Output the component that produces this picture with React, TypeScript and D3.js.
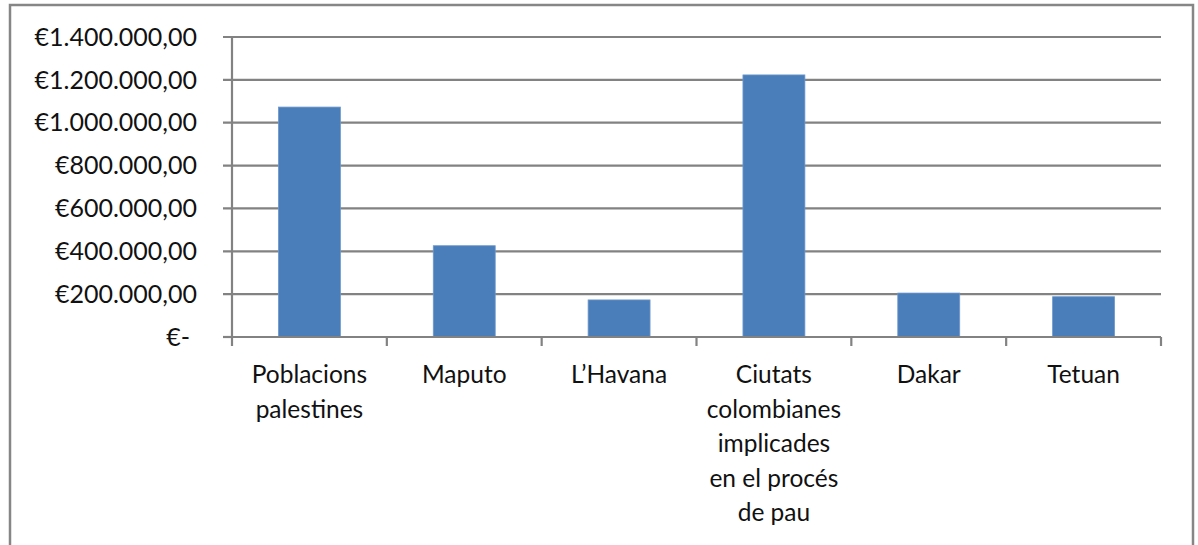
import React, { useEffect, useRef } from "react";
import * as d3 from "d3";

const WIDTH = 1198;
const HEIGHT = 545;

// Dades del gràfic
const categories: string[][] = [
  ["Poblacions", "palestines"],
  ["Maputo"],
  ["L’Havana"],
  ["Ciutats", "colombianes", "implicades", "en el procés", "de pau"],
  ["Dakar"],
  ["Tetuan"],
];
const values: number[] = [1073000, 426000, 173000, 1223000, 205000, 188000];
const yTicks: number[] = [0, 200000, 400000, 600000, 800000, 1000000, 1200000, 1400000];

const margin = { left: 232, right: 37, top: 37, bottom: 208 };

const App: React.FC = () => {
  const ref = useRef<SVGSVGElement | null>(null);

  useEffect(() => {
    if (!ref.current) return;
    const svg = d3.select(ref.current);
    svg.selectAll("*").remove();

    const locale = d3.formatLocale({
      decimal: ",",
      thousands: ".",
      grouping: [3],
      currency: ["€", ""],
    });
    const fmt = locale.format("$,.2f");
    const label = (v: number) => (v === 0 ? "€-" : fmt(v));

    const x0 = margin.left;
    const x1 = WIDTH - margin.right;
    const yTop = margin.top;
    const yBot = HEIGHT - margin.bottom;

    const idx = categories.map((_, i) => i);
    const x = d3.scaleBand<number>().domain(idx).range([x0, x1]).paddingInner(0.6).paddingOuter(0.3);
    const band = d3.scaleBand<number>().domain(idx).range([x0, x1]);
    const y = d3.scaleLinear().domain([0, 1400000]).range([yBot, yTop]);

    const grey = "#828282";
    const font = "Lato, 'Open Sans', sans-serif";

    // marc exterior
    svg
      .append("rect")
      .attr("x", 10)
      .attr("y", 5)
      .attr("width", 1183)
      .attr("height", 620)
      .attr("fill", "#fff")
      .attr("stroke", "#868686")
      .attr("stroke-width", 2.5);

    // línies de quadrícula
    svg
      .append("g")
      .selectAll("line")
      .data(yTicks.filter((t) => t > 0))
      .enter()
      .append("line")
      .attr("x1", x0 - 9)
      .attr("x2", x1)
      .attr("y1", (d) => y(d))
      .attr("y2", (d) => y(d))
      .attr("stroke", grey)
      .attr("stroke-width", 2.2);

    // barres
    svg
      .append("g")
      .selectAll("rect")
      .data(values)
      .enter()
      .append("rect")
      .attr("x", (_, i) => x(i) || 0)
      .attr("y", (d) => y(d))
      .attr("width", x.bandwidth())
      .attr("height", (d) => yBot - y(d))
      .attr("fill", "#4a7ebb")
      .attr("stroke", "#6d98cc")
      .attr("stroke-width", 0.8);

    // eix Y
    svg
      .append("line")
      .attr("x1", x0)
      .attr("x2", x0)
      .attr("y1", yTop)
      .attr("y2", yBot)
      .attr("stroke", grey)
      .attr("stroke-width", 2.2);
    svg
      .append("line")
      .attr("x1", x0 - 9)
      .attr("x2", x0)
      .attr("y1", yBot)
      .attr("y2", yBot)
      .attr("stroke", grey)
      .attr("stroke-width", 2.2);

    // eix X
    svg
      .append("line")
      .attr("x1", x0)
      .attr("x2", x1)
      .attr("y1", yBot)
      .attr("y2", yBot)
      .attr("stroke", grey)
      .attr("stroke-width", 2.2);
    const bounds = idx.map((i) => band(i) || 0).concat([x1]);
    svg
      .append("g")
      .selectAll("line")
      .data(bounds)
      .enter()
      .append("line")
      .attr("x1", (d) => d)
      .attr("x2", (d) => d)
      .attr("y1", yBot)
      .attr("y2", yBot + 9)
      .attr("stroke", grey)
      .attr("stroke-width", 2.2);

    // etiquetes eix Y
    svg
      .append("g")
      .selectAll("text")
      .data(yTicks)
      .enter()
      .append("text")
      .attr("x", (d) => (d === 0 ? 190 : 197))
      .attr("y", (d) => y(d))
      .attr("dy", "0.35em")
      .attr("text-anchor", "end")
      .attr("font-family", font)
      .attr("font-size", 25)
      .attr("fill", "#111")
      .text((d) => label(d));

    // etiquetes de categoria
    const cat = svg
      .append("g")
      .selectAll("text")
      .data(categories)
      .enter()
      .append("text")
      .attr("x", (_, i) => (band(i) || 0) + band.bandwidth() / 2)
      .attr("y", 383)
      .attr("text-anchor", "middle")
      .attr("font-family", font)
      .attr("font-size", 24.5)
      .attr("fill", "#111");
    cat
      .selectAll("tspan")
      .data((d) => d)
      .enter()
      .append("tspan")
      .attr("x", function () {
        return (this.parentNode as SVGTextElement).getAttribute("x");
      })
      .attr("dy", (_, j) => (j === 0 ? 0 : 34.5))
      .text((d) => d);
  }, []);

  return (
    <svg
      ref={ref}
      width={WIDTH}
      height={HEIGHT}
      style={{ position: "absolute", left: 0, top: 0, background: "#fff" }}
    />
  );
};

export default App;
